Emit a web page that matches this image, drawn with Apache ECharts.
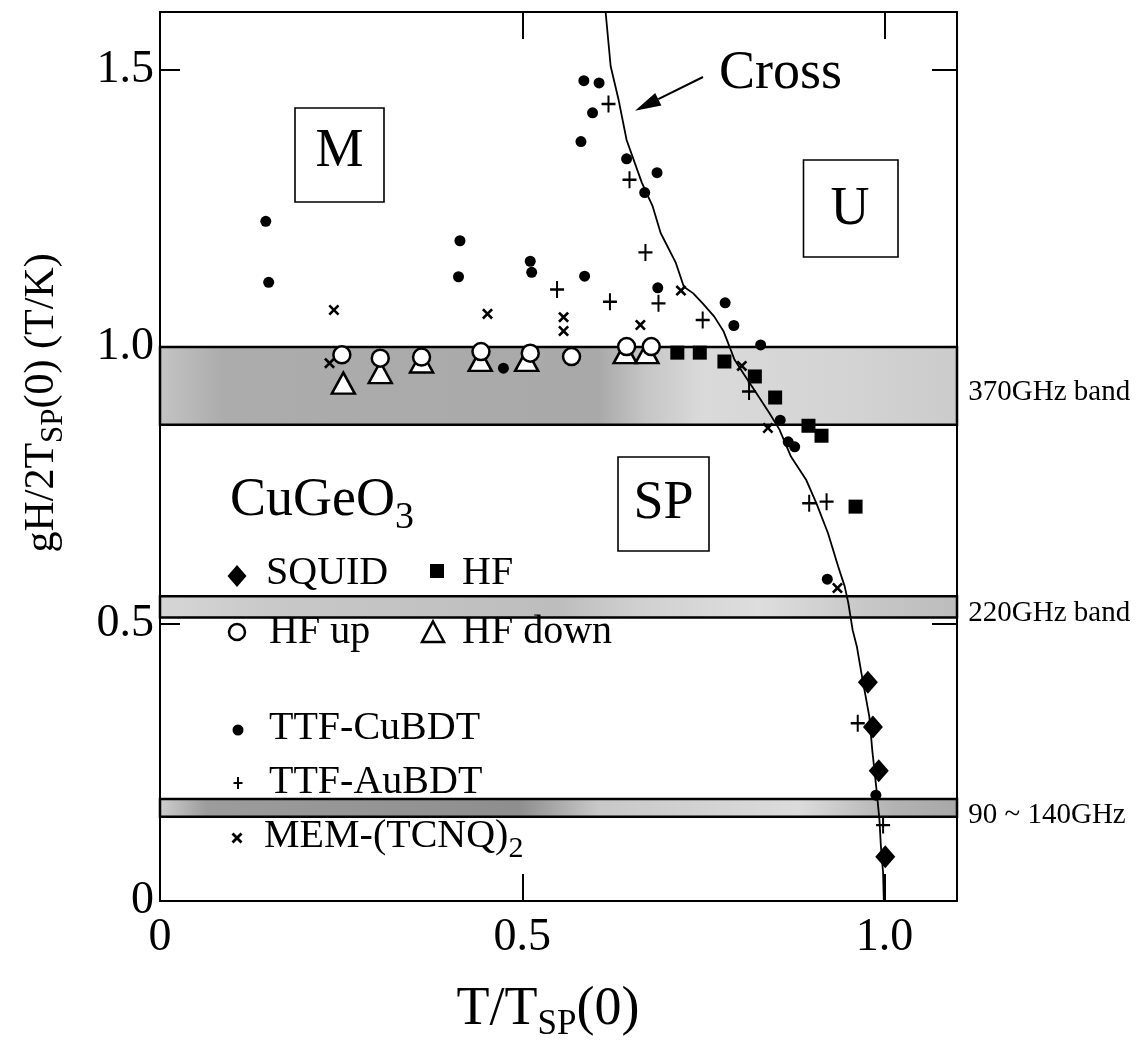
<!DOCTYPE html>
<html>
<head>
<meta charset="utf-8">
<script src="https://cdn.jsdelivr.net/npm/echarts@6/dist/echarts.min.js"></script>
<style>html,body{margin:0;padding:0;background:#fff}#c{width:1145px;height:1043px}</style>
</head>
<body>
<div id="c"></div>
<script>
// ---------------- data ----------------
const xTicks = [0, 0.5, 1.0];
const xTickLabels = ['0', '0.5', '1.0'];
const yTicks = [0, 0.5, 1.0, 1.5];
const yTickLabels = ['0', '0.5', '1.0', '1.5'];

const squid = [[0.977,0.395],[0.984,0.314],[0.992,0.235],[1.001,0.080]];
const hf = [[0.714,0.990],[0.745,0.990],[0.779,0.974],[0.821,0.947],[0.849,0.909],[0.895,0.858],[0.913,0.840],[0.960,0.712]];
const hfUp = [[0.251,0.986],[0.304,0.980],[0.361,0.982],[0.443,0.992],[0.511,0.989],[0.568,0.983],[0.644,1.001],[0.678,1.001]];
const hfDown = [[0.253,0.935],[0.304,0.954],[0.361,0.973],[0.442,0.976],[0.506,0.976],[0.642,0.990],[0.672,0.990]];
const ttfCuBDT = [[0.146,1.227],[0.150,1.117],[0.414,1.192],[0.412,1.127],[0.511,1.155],[0.513,1.135],[0.586,1.128],
  [0.585,1.481],[0.606,1.477],[0.597,1.423],[0.581,1.371],[0.644,1.340],[0.686,1.315],[0.669,1.279],[0.687,1.107],
  [0.780,1.080],[0.792,1.039],[0.829,1.004],[0.474,0.962],[0.856,0.868],[0.867,0.829],[0.876,0.820],[0.921,0.581],[0.988,0.191]];
const ttfAuBDT = [[0.548,1.104],[0.619,1.439],[0.648,1.302],[0.670,1.171],[0.621,1.082],[0.688,1.079],[0.749,1.049],
  [0.813,0.920],[0.896,0.718],[0.920,0.721],[0.963,0.321],[0.998,0.137]];
const memTCNQ = [[0.240,1.067],[0.452,1.060],[0.557,1.054],[0.557,1.029],[0.663,1.040],[0.719,1.102],[0.234,0.971],
  [0.803,0.966],[0.839,0.854],[0.935,0.565]];
const crossCurve = [[0.615,1.605],[0.622,1.507],[0.633,1.446],[0.644,1.374],[0.665,1.297],[0.680,1.254],[0.691,1.206],
  [0.712,1.152],[0.723,1.109],[0.736,1.097],[0.749,1.079],[0.765,1.055],[0.778,1.028],[0.786,1.001],[0.793,0.977],
  [0.805,0.953],[0.823,0.917],[0.841,0.881],[0.855,0.851],[0.871,0.802],[0.892,0.760],[0.906,0.718],[0.922,0.664],
  [0.936,0.604],[0.945,0.568],[0.950,0.538],[0.956,0.489],[0.962,0.458],[0.968,0.412],[0.979,0.333],[0.983,0.273],
  [0.989,0.200],[0.993,0.146],[0.995,0.098],[0.998,0.051],[0.999,0.0]];
const bandNames = ['370GHz band', '220GHz band', '90 ~ 140GHz'];
const bandFrom = [0.86, 0.512, 0.152];
const bandTo = [1.0, 0.550, 0.184];

// ---------------- styling ----------------
const FONT = '"Liberation Serif","Times New Roman",serif';
const bandStops = [
  [[0,'#c4c4c4'],[0.08,'#acacac'],[0.55,'#a9a9a9'],[0.61,'#c6c6c6'],[0.68,'#dadada'],[0.85,'#d4d4d4'],[1,'#cbcbcb']],
  [[0,'#d6d6d6'],[0.15,'#c8c8c8'],[0.5,'#bdbdbd'],[0.6,'#d0d0d0'],[0.75,'#dedede'],[0.88,'#c8c8c8'],[1,'#bcbcbc']],
  [[0,'#cfcfcf'],[0.06,'#9c9c9c'],[0.45,'#8e8e8e'],[0.55,'#c8c8c8'],[0.8,'#dcdcdc'],[0.92,'#b2b2b2'],[1,'#a8a8a8']]
];
function grad(stops){
  return {type:'linear', x:0, y:0, x2:1, y2:0, colorStops: stops.map(s => ({offset:s[0], color:s[1]}))};
}
const PLUS = 'path://M-1,-7H1V-1H7V1H1V7H-1V1H-7V-1H-1Z';
const CROSS = 'path://M-1.4,-7H1.4V-1.4H7V1.4H1.4V7H-1.4V1.4H-7V-1.4H-1.4Z';

const axisLineStyle = {show:true, onZero:false, lineStyle:{color:'#000', width:2}};
function tickStyle(len){ return {show:true, inside:true, length:len, lineStyle:{color:'#000', width:2}}; }

// ---------------- annotations (text, boxes, legend icons) ----------------
const G = [];
const mctx = document.createElement('canvas').getContext('2d');
function measure(t, size){ mctx.font = size + 'px ' + FONT; return mctx.measureText(t).width; }
function box(x,y,w,h){ G.push({type:'rect', z:10, shape:{x:x,y:y,width:w,height:h}, style:{fill:null, stroke:'#000', lineWidth:1.6}}); }
function text(x,y,t,size,align){
  G.push({type:'text', z:11, x:x, y:y, style:{text:t, fill:'#000', fontSize:size, fontFamily:FONT,
    align:align||'left', verticalAlign:'middle', textAlign:align||'left', textVerticalAlign:'middle'}});
}
// parts: [text, isSub]; main text caps centred on y; subscripts dropped by `drop` px
function subRun(x, y, parts, size, subSize, drop, align, rotation){
  const ws = parts.map(p => measure(p[0], p[1] ? subSize : size));
  const total = ws.reduce((a,b)=>a+b, 0);
  let cx = align === 'center' ? -total/2 : 0;
  const kids = [];
  parts.forEach((p, i) => {
    const fs = p[1] ? subSize : size;
    const yy = p[1] ? (0.3375*size + drop - 0.3375*subSize) : 0;
    kids.push({type:'text', x:cx, y:yy, style:{text:p[0], fill:'#000', fontSize:fs, fontFamily:FONT,
      align:'left', verticalAlign:'middle', textAlign:'left', textVerticalAlign:'middle'}});
    cx += ws[i];
  });
  G.push({type:'group', z:11, x:x, y:y, rotation:rotation||0, children:kids});
}
// region boxes
box(295,108,89,94);  text(339.5,152,'M',54,'center');
box(803.5,160,94.5,97); text(850,210,'U',54,'center');
box(618,457,91,94);  text(663.5,504,'SP',54,'center');
// Cross + arrow
text(719,73.5,'Cross',54,'left');
G.push({type:'line', z:10, shape:{x1:703,y1:77,x2:658.3,y2:99.2}, style:{stroke:'#000', lineWidth:2}});
G.push({type:'polygon', z:10, shape:{points:[[635,110.7],[661.4,105.5],[655.2,92.9]]}, style:{fill:'#000'}});
// compound label
subRun(230,501,[['CuGeO',0],['3',1]],54,38,12,'left');
// legend
G.push({type:'polygon', z:10, shape:{points:[[237,565],[246.5,576],[237,587],[227.5,576]]}, style:{fill:'#000'}});
text(266,573,'SQUID',40,'left');
G.push({type:'rect', z:10, shape:{x:430,y:564,width:14,height:14}, style:{fill:'#000'}});
text(462,573,'HF',40,'left');
G.push({type:'circle', z:10, shape:{cx:237,cy:632,r:8}, style:{fill:'#fff', stroke:'#000', lineWidth:2.5}});
text(269,632,'HF up',40,'left');
G.push({type:'polygon', z:10, shape:{points:[[433,621.5],[444,642],[422,642]]}, style:{fill:'#fff', stroke:'#000', lineWidth:2.5}});
text(462,632,'HF down',40,'left');
G.push({type:'circle', z:10, shape:{cx:238,cy:730,r:5.5}, style:{fill:'#000'}});
text(269,728,'TTF-CuBDT',40,'left');
G.push({type:'line', z:10, shape:{x1:233.5,y1:783,x2:242.5,y2:783}, style:{stroke:'#000', lineWidth:2}});
G.push({type:'line', z:10, shape:{x1:238,y1:777,x2:238,y2:789}, style:{stroke:'#000', lineWidth:2}});
text(269,782,'TTF-AuBDT',40,'left');
G.push({type:'line', z:10, shape:{x1:232.5,y1:833.5,x2:241.5,y2:842.5}, style:{stroke:'#000', lineWidth:2.8}});
G.push({type:'line', z:10, shape:{x1:241.5,y1:833.5,x2:232.5,y2:842.5}, style:{stroke:'#000', lineWidth:2.8}});
subRun(264,836,[['MEM-(TCNQ)',0],['2',1]],40,30,10,'left');
// axis titles
subRun(548,1010,[['T/T',0],['SP',1],['(0)',0]],54,35,8,'center');
subRun(42,403,[['gH/2T',0],['SP',1],['(0) (T/K)',0]],42,31,8,'center',Math.PI/2);

// ---------------- chart ----------------
const chart = echarts.init(document.getElementById('c'), null, {renderer:'canvas'});
const option = {
  animation:false,
  backgroundColor:'#fff',
  grid:{left:160, right:188, top:12, bottom:142, containLabel:false, outerBoundsMode:'none'},
  xAxis:[
    {type:'value', position:'bottom', min:0, max:1.1, interval:0.5, splitLine:{show:false},
     axisLine:axisLineStyle, axisTick:tickStyle(27),
     axisLabel:{show:true, margin:14, fontSize:46, fontFamily:FONT, color:'#000',
       formatter:v => { const i = xTicks.findIndex(t => Math.abs(t - v) < 1e-9); return i >= 0 ? xTickLabels[i] : ''; }}},
    {type:'value', position:'top', min:0, max:1.1, interval:0.5, splitLine:{show:false},
     axisLine:axisLineStyle, axisTick:tickStyle(27), axisLabel:{show:false}}
  ],
  yAxis:[
    {type:'value', position:'left', min:0, max:1.605, interval:0.5, splitLine:{show:false},
     axisLine:axisLineStyle, axisTick:tickStyle(20),
     axisLabel:{show:true, margin:6, fontSize:46, fontFamily:FONT, color:'#000',
       formatter:v => { const i = yTicks.findIndex(t => Math.abs(t - v) < 1e-9); return i >= 0 ? yTickLabels[i] : ''; }}},
    {type:'value', position:'right', min:0, max:1.605, interval:0.5, splitLine:{show:false},
     axisLine:axisLineStyle, axisTick:tickStyle(25), axisLabel:{show:false}}
  ],
  graphic:G,
  series:[
    {name:'Cross', type:'line', data:crossCurve, symbol:'none', showSymbol:false, clip:false, z:3,
     lineStyle:{color:'#000', width:1.8}, silent:true,
     markArea:{silent:true, z:1,
       data: bandNames.map((nm, i) => [
         {name:nm, yAxis:bandFrom[i],
          itemStyle:{color:grad(bandStops[i]), borderColor:'#000', borderWidth:2.5},
          label:{show:true, position:'right', distance:10, offset:[0,7], formatter:'{b}',
                 fontSize:29, fontFamily:FONT, color:'#000'}},
         {yAxis:bandTo[i]}
       ])}},
    {name:'TTF-CuBDT', type:'scatter', data:ttfCuBDT, symbol:'circle', symbolSize:11, z:4,
     itemStyle:{color:'#000', opacity:1}},
    {name:'TTF-AuBDT', type:'scatter', data:ttfAuBDT, symbol:PLUS, symbolSize:[14,17], z:4,
     itemStyle:{color:'#000', opacity:1}},
    {name:'MEM-(TCNQ)2', type:'scatter', data:memTCNQ, symbol:CROSS, symbolSize:13, symbolRotate:45, z:4,
     itemStyle:{color:'#000', opacity:1}},
    {name:'HF down', type:'scatter', data:hfDown, symbol:'triangle', symbolSize:[23,21], z:5,
     itemStyle:{color:'#fff', borderColor:'#000', borderWidth:2.5, opacity:1}},
    {name:'HF up', type:'scatter', data:hfUp, symbol:'circle', symbolSize:17, z:6,
     itemStyle:{color:'#fff', borderColor:'#000', borderWidth:2.5, opacity:1}},
    {name:'HF', type:'scatter', data:hf, symbol:'rect', symbolSize:14, z:7,
     itemStyle:{color:'#000', opacity:1}},
    {name:'SQUID', type:'scatter', data:squid, symbol:'diamond', symbolSize:[20,23], z:7,
     itemStyle:{color:'#000', opacity:1}}
  ]
};
chart.setOption(option);
</script>
</body>
</html>
